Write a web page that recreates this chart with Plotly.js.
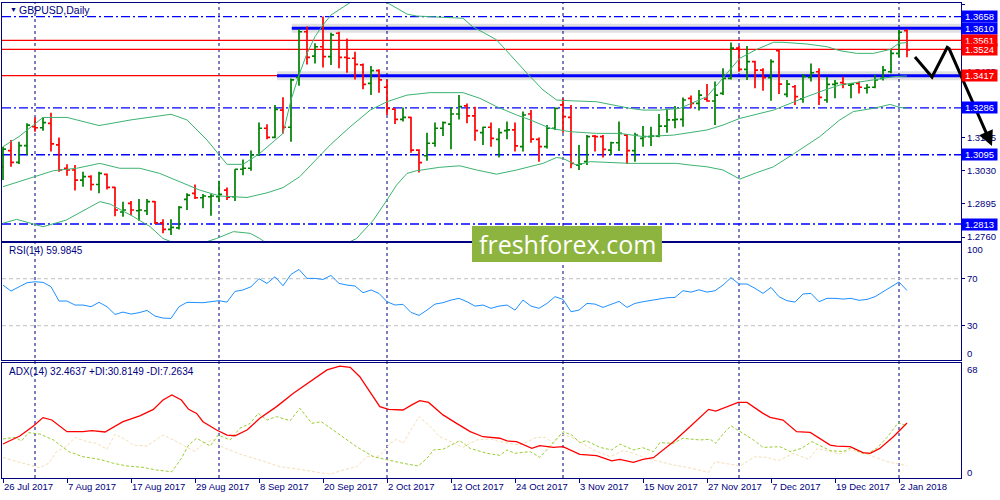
<!DOCTYPE html>
<html><head><meta charset="utf-8">
<script src="https://cdn.plot.ly/plotly-3.0.1.min.js"></script>
<style>html,body{margin:0;padding:0;background:#fff}#chart{width:1000px;height:500px}</style>
</head><body><div id="chart"></div>
<script>
// ---------- data ----------
const tickLabels = ['26 Jul 2017','7 Aug 2017','17 Aug 2017','29 Aug 2017','8 Sep 2017','20 Sep 2017','2 Oct 2017','12 Oct 2017','24 Oct 2017','3 Nov 2017','15 Nov 2017','27 Nov 2017','7 Dec 2017','19 Dec 2017','2 Jan 2018'];
const tickBars = [0,8,16,24,32,40,48,56,64,72,80,88,96,104,112];
const monthStartBars = [4,27,48,70,92,112];

const open = [1.3046,1.3112,1.3064,1.3132,1.3209,1.3205,1.3223,1.3135,1.3040,1.3033,
1.2992,1.3006,1.2974,1.3015,1.2962,1.2862,1.2897,1.2867,1.2867,1.2904,
1.2818,1.2791,1.2797,1.2913,1.2938,1.2920,1.2924,1.2924,1.2951,1.2924,
1.3036,1.3040,1.3094,1.3203,1.3166,1.3277,1.3207,1.3410,1.3596,1.3497,
1.3535,1.3495,1.3590,1.3492,1.3488,1.3461,1.3386,1.3438,1.3370,1.3281,
1.3239,1.3247,1.3114,1.3091,1.3142,1.3203,1.3220,1.3261,1.3294,1.3253,
1.3185,1.3207,1.3158,1.3193,1.3196,1.3128,1.3261,1.3158,1.3128,1.3203,
1.3298,1.3247,1.3053,1.3067,1.3171,1.3169,1.3114,1.3144,1.3175,1.3112,
1.3162,1.3169,1.3171,1.3212,1.3237,1.3239,1.3325,1.3304,1.3322,1.3314,
1.3345,1.3406,1.3529,1.3443,1.3474,1.3440,1.3409,1.3519,1.3341,1.3372,
1.3323,1.3410,1.3433,1.3318,1.3382,1.3389,1.3379,1.3386,1.3366,1.3370,
1.3406,1.3433,1.3508,1.3600];
const high = [1.3128,1.3155,1.3148,1.3223,1.3247,1.3247,1.3266,1.3165,1.3056,1.3053,
1.3026,1.3012,1.3026,1.3019,1.2965,1.2904,1.2907,1.2915,1.2915,1.2907,
1.2832,1.2832,1.2886,1.2938,1.2974,1.2935,1.2935,1.2989,1.2962,1.3036,
1.3076,1.3112,1.3226,1.3219,1.3298,1.3329,1.3406,1.3607,1.3617,1.3549,
1.3658,1.3592,1.3596,1.3569,1.3515,1.3467,1.3457,1.3443,1.3402,1.3284,
1.3288,1.3250,1.3117,1.3185,1.3226,1.3230,1.3288,1.3338,1.3304,1.3291,
1.3209,1.3226,1.3203,1.3230,1.3226,1.3271,1.3277,1.3165,1.3216,1.3288,
1.3325,1.3298,1.3135,1.3175,1.3175,1.3175,1.3148,1.3230,1.3180,1.3185,
1.3212,1.3209,1.3261,1.3277,1.3294,1.3328,1.3336,1.3359,1.3383,1.3393,
1.3447,1.3552,1.3538,1.3538,1.3478,1.3447,1.3484,1.3524,1.3400,1.3379,
1.3424,1.3467,1.3447,1.3413,1.3400,1.3413,1.3386,1.3393,1.3383,1.3420,
1.3457,1.3522,1.3603,1.3606];
const low = [1.2992,1.3046,1.3057,1.3094,1.3189,1.3193,1.3108,1.3026,1.3010,1.2949,
1.2965,1.2949,1.2938,1.2954,1.2845,1.2843,1.2850,1.2826,1.2850,1.2813,
1.2775,1.2768,1.2791,1.2870,1.2915,1.2877,1.2847,1.2904,1.2911,1.2907,
1.3012,1.3030,1.3091,1.3158,1.3162,1.3182,1.3148,1.3376,1.3463,1.3467,
1.3450,1.3461,1.3447,1.3429,1.3402,1.3362,1.3338,1.3348,1.3257,1.3220,
1.3230,1.3103,1.3023,1.3071,1.3128,1.3171,1.3117,1.3239,1.3223,1.3152,
1.3135,1.3128,1.3084,1.3158,1.3108,1.3108,1.3144,1.3067,1.3121,1.3196,
1.3185,1.3040,1.3033,1.3053,1.3108,1.3084,1.3094,1.3110,1.3057,1.3067,
1.3128,1.3131,1.3166,1.3185,1.3203,1.3209,1.3284,1.3275,1.3311,1.3216,
1.3338,1.3402,1.3433,1.3400,1.3366,1.3356,1.3315,1.3342,1.3329,1.3298,
1.3307,1.3393,1.3298,1.3307,1.3325,1.3366,1.3325,1.3345,1.3345,1.3366,
1.3397,1.3427,1.3492,1.3492];
const close = [1.3118,1.3064,1.3132,1.3216,1.3205,1.3226,1.3139,1.3033,1.3033,1.2992,
1.3006,1.2974,1.3019,1.2962,1.2870,1.2870,1.2870,1.2870,1.2904,1.2818,
1.2791,1.2799,1.2881,1.2931,1.2920,1.2927,1.2927,1.2934,1.2922,1.3036,
1.3040,1.3094,1.3203,1.3166,1.3280,1.3207,1.3400,1.3596,1.3492,1.3535,
1.3495,1.3583,1.3492,1.3488,1.3463,1.3382,1.3438,1.3400,1.3284,1.3239,
1.3247,1.3114,1.3063,1.3142,1.3203,1.3226,1.3261,1.3291,1.3253,1.3193,
1.3207,1.3162,1.3185,1.3196,1.3131,1.3257,1.3159,1.3128,1.3203,1.3284,
1.3250,1.3060,1.3057,1.3169,1.3169,1.3117,1.3144,1.3182,1.3112,1.3175,
1.3169,1.3171,1.3212,1.3237,1.3239,1.3318,1.3304,1.3338,1.3314,1.3338,
1.3406,1.3529,1.3443,1.3474,1.3440,1.3409,1.3474,1.3383,1.3383,1.3332,
1.3413,1.3429,1.3329,1.3382,1.3386,1.3383,1.3383,1.3370,1.3370,1.3400,
1.3440,1.3508,1.3594,1.3522];

const bbUpperX = [0,2,5,8,12,16,21,23,25.5,28,30,32,35,36,37,38,39,40,41,43.4,45.5,48,50.5,51.7,57.5,58.7,61.7,63.2,65.5,67.5,69.2,70.9,74.2,78.4,80,82.1,84.6,88,90,92.1,94.2,96.3,97.5,100.5,103,104.6,106.7,108.8,110.9,112,113];
const bbUpper = [1.3128,1.3169,1.3247,1.3247,1.3214,1.3237,1.3260,1.3237,1.3155,1.3056,1.3056,1.3098,1.3182,1.3318,1.3420,1.3508,1.3576,1.3624,1.3664,1.3715,1.3735,1.3715,1.3668,1.3660,1.3651,1.3617,1.3563,1.3508,1.3427,1.3359,1.3318,1.3315,1.3311,1.3284,1.3277,1.3277,1.3284,1.3332,1.3406,1.3488,1.3524,1.3553,1.3553,1.3546,1.3535,1.3519,1.3508,1.3508,1.3524,1.3549,1.3552];
const bbMidX = [0,3.8,6.3,9.2,12.1,14.6,17.1,19.6,22.1,24.6,27.1,30.5,33,35,37.1,39.2,40.9,43.4,45.9,48,50.5,53.4,57.5,59.6,61.7,64.2,65.9,68.4,70.9,74.2,77.1,80,83.8,88,90,92.1,96.3,98.4,100.5,103,104.6,108.8,111.3,113];
const bbMid = [1.2965,1.3006,1.3030,1.3040,1.3060,1.3040,1.3040,1.3019,1.2985,1.2951,1.2927,1.2921,1.2940,1.2961,1.3006,1.3076,1.3135,1.3209,1.3277,1.3311,1.3338,1.3348,1.3348,1.3325,1.3291,1.3257,1.3237,1.3203,1.3189,1.3182,1.3182,1.3169,1.3175,1.3196,1.3216,1.3243,1.3277,1.3304,1.3332,1.3362,1.3379,1.3400,1.3413,1.3416];
const bbLowerX = [0,1.7,3.8,5,7.9,12.1,13.4,16.3,18.4,20,23,26.7,28.8,30.9,32.1,37,44.2,46.3,48,49.2,50.5,51.7,54.6,57.1,59.2,61.7,64.2,65.9,67.5,69.2,70,71.7,73.4,78.4,82.1,84.2,85.9,88,90,92.1,94.2,96.3,98.8,102.1,104.6,106.3,108.8,110.9,112.1,113];
const bbLower = [1.2816,1.2832,1.2813,1.2802,1.2829,1.2904,1.2894,1.2843,1.2802,1.2754,1.2715,1.2754,1.2782,1.2775,1.2754,1.2640,1.2754,1.2829,1.2911,1.2972,1.3019,1.3030,1.3044,1.3050,1.3033,1.3016,1.3033,1.3046,1.3060,1.3084,1.3080,1.3053,1.3067,1.3060,1.3060,1.3060,1.3053,1.3046,1.3033,1.2996,1.3022,1.3046,1.3098,1.3169,1.3237,1.3271,1.3284,1.3300,1.3288,1.3284];

const rsiX = [0,1,3,4,5,6,7,8,9,10,11,12,13,14,15,16,17,18,19,20,21,22,23,25,27,28,29,30,31,32,33,34,35,36,37,38,39,40,41,42,43,44,45,46,47,48,49,50,51,52,53,54,55,56,57,58,59,60,61,62,63,64,65,66,67,68,69,70,71,72,73,74,75,76,77,78,79,80,81,82,83,84,85,86,87,88,89,90,91,92,93,94,95,96,97,98,99,100,101,102,103,104,105,106,107,108,109,110,111,112,113];
const rsi = [64.6,59.5,66.6,67.4,66.9,63.2,51.0,51.0,47.6,47.6,46.2,49.9,46.2,39.6,41.6,39.9,41.1,43.0,38.2,36.5,36.2,46.2,49.9,49.6,51.3,50.1,59.2,60.4,63.2,70.0,66.0,71.7,64.0,73.7,77.9,70.3,70.3,69.4,72.8,66.0,64.6,63.8,58.1,60.4,57.5,50.4,47.6,48.2,41.3,38.8,43.3,48.4,49.6,51.8,53.3,50.4,46.7,47.6,44.8,46.7,47.6,43.3,51.8,46.7,44.8,49.0,54.7,52.4,41.9,43.3,49.0,48.4,45.6,48.2,50.7,45.6,49.0,50.4,51.6,52.7,53.8,54.1,59.8,58.6,60.6,58.6,59.8,64.6,70.9,65.5,65.5,61.8,57.5,62.6,54.7,51.3,50.1,57.0,57.5,50.4,53.3,53.3,52.7,53.3,51.6,52.4,54.7,58.9,63.2,67.2,60.0];

const adxX = [0,2.1,3.8,5,6.1,8,10,11.1,12.75,15,17.1,18.8,20,21.1,22.3,23.2,24.2,25,26.7,28,29,30.5,32.1,34.2,36.3,38.8,40.5,42.1,43.4,44.6,45.9,47.1,48.2,50,51.1,52.1,53.2,55,56.7,58.4,60,62.1,63,64.2,66.1,67.1,68.8,70,72.1,74.2,76.1,77.1,78.8,80,81.3,83.8,85.9,88.2,89.1,90.5,91.9,93,95,95.9,97.5,99.2,100.9,103.4,104.2,105.9,107.5,108.4,109.6,111.3,112.1,113];
const adx = [20.1,24.8,30.7,35.7,34.3,27.4,27.4,28.0,27.2,33.3,36.7,40.6,46.1,49.1,46.1,40.6,38.2,33.3,28.4,25.4,25.0,28.4,35.3,42.2,50.1,58.3,63.9,66.2,65.4,59.9,51.0,42.2,40.6,40.2,43.2,45.7,44.7,37.3,32.3,27.4,24.4,23.5,21.9,21.5,17.5,19.1,18.1,18.5,14.0,13.2,10.1,11.0,9.3,11.0,12.0,21.5,30.4,40.6,39.6,42.2,44.7,44.7,38.2,35.9,34.3,27.4,27.0,19.5,18.9,18.5,15.0,14.6,17.5,24.4,28.4,32.5];
const pdiX = [0,1.5,2.3,3.2,4.6,6.3,8.2,10,12.1,13.8,15.5,17.5,19.2,21.1,22.3,23.2,24.2,25.9,26.9,28.4,29.6,30.9,31.9,33,34.2,35.9,37.1,38.6,39.8,42.1,44.2,46.3,48,50,51.9,53,53.8,55,57.1,58.4,60.5,62.1,63,64,65.9,67.1,68.4,70,71.1,72.1,72.9,74.6,76.1,77.1,78.8,80,81.3,82.1,83.8,85,87.1,88.4,89.1,90,91,92.1,93.8,95,97.1,98.4,99.8,101.1,102.3,103.4,105,106.1,107.1,108,109.2,110.5,111.9,113];
const pdi = [23.1,24.0,21.9,26.8,26.0,22.5,15.6,12.6,11.0,8.7,7.1,6.3,4.7,3.7,11.6,19.5,23.5,18.9,25.4,22.5,29.4,32.3,38.2,34.3,36.3,33.9,41.2,32.3,33.3,25.4,18.5,12.6,10.6,8.7,7.1,11.6,16.6,17.0,22.1,17.5,14.6,13.4,16.6,14.6,15.6,12.2,18.9,27.4,25.4,20.9,22.1,18.1,16.6,20.1,16.6,17.9,15.6,20.9,20.5,23.5,22.5,22.9,20.5,26.0,30.9,27.4,22.5,18.1,18.5,15.6,17.5,21.5,18.5,16.2,15.6,18.1,15.0,14.2,17.5,24.0,32.7,30.8];
const mdiX = [0,1.7,3.4,4.6,5.7,6.7,8,9,10.5,11.7,13,14,15.5,16.3,18,20,21.3,22.8,24,25,26.3,27.5,29.6,32.1,34.6,37.1,39.6,40.9,42.5,44.2,45.5,47.1,48.4,49.2,50,51.1,52,53.4,54.6,56.3,57.5,59.2,60.9,62.1,63.4,64.6,66.7,67.8,68.8,69.8,70.9,72.1,73.8,75.9,77.5,78.8,80.5,82.1,83.8,85.5,87.1,88.2,89,90.9,92.1,94,95.5,96.9,98.8,100.7,101.8,103.4,104.6,105.9,107.3,108.8,110.5,111.9,113];
const mdi = [12.2,9.7,7.7,6.1,8.7,15.6,18.9,24.0,21.5,20.5,17.0,26.0,22.1,19.5,18.9,25.4,22.5,18.9,15.6,20.5,22.5,18.1,14.2,10.6,6.7,5.1,3.4,2.2,4.7,6.7,12.6,13.0,20.5,22.9,20.5,29.4,36.3,30.4,24.4,20.9,18.1,22.5,23.1,21.5,20.5,19.5,24.0,24.0,20.5,26.0,24.4,21.5,16.6,12.6,16.2,14.6,11.6,9.7,7.7,6.3,4.7,3.4,9.7,8.1,7.1,12.6,12.2,10.2,14.6,11.0,17.5,15.6,14.2,16.6,15.6,12.6,9.7,8.3,7.3];

const priceTicks = [1.3705,1.3435,1.3165,1.3030,1.2895,1.2760];
const blueDashLevels = [1.3658,1.3286,1.3095,1.2813];
const redLevels = [1.3561,1.3524,1.3417];
const zoneLevels = [1.3610,1.3417];
const zoneStartBars = [36.1,34.25];
const labelsBlue = [1.3658,1.3610,1.3286,1.3095,1.2813];
const labelsRed = [1.3561,1.3524,1.3417];

// ---------- styling ----------
const NAVY = '#000080';
const F = 'Liberation Sans, Arial, sans-serif';
const XR = [-0.125, 119.75];
const bars = open.map((_, i) => i);

const traces = [
  {type:'scatter', mode:'lines', x:bbUpperX, y:bbUpper, xaxis:'x', yaxis:'y', line:{color:'#3CB371', width:1}, hoverinfo:'skip'},
  {type:'scatter', mode:'lines', x:bbMidX, y:bbMid, xaxis:'x', yaxis:'y', line:{color:'#3CB371', width:1}, hoverinfo:'skip'},
  {type:'scatter', mode:'lines', x:bbLowerX, y:bbLower, xaxis:'x', yaxis:'y', line:{color:'#3CB371', width:1}, hoverinfo:'skip'},
  {type:'ohlc', x:bars, open:open, high:high, low:low, close:close, xaxis:'x', yaxis:'y',
   increasing:{line:{color:'#008000', width:1.7}}, decreasing:{line:{color:'#FF0000', width:1.7}}, tickwidth:0.38, hoverinfo:'skip'},
  {type:'scatter', mode:'lines', x:rsiX, y:rsi, xaxis:'x2', yaxis:'y2', line:{color:'#1E90FF', width:1}, hoverinfo:'skip'},
  {type:'scatter', mode:'lines', x:mdiX, y:mdi, xaxis:'x3', yaxis:'y3', line:{color:'#F5DEB3', width:1, dash:'3px,2px'}, hoverinfo:'skip'},
  {type:'scatter', mode:'lines', x:pdiX, y:pdi, xaxis:'x3', yaxis:'y3', line:{color:'#9ACD32', width:1, dash:'3px,2px'}, hoverinfo:'skip'},
  {type:'scatter', mode:'lines', x:adxX, y:adx, xaxis:'x3', yaxis:'y3', line:{color:'#FF0000', width:1.3}, hoverinfo:'skip'}
];

const shapes = [];
monthStartBars.forEach(b => shapes.push({type:'line', xref:'x', yref:'paper', x0:b, x1:b, y0:0, y1:1, layer:'below', line:{color:NAVY, width:1, dash:'3px,3px'}}));
blueDashLevels.forEach(v => shapes.push({type:'line', xref:'paper', yref:'y', x0:0, x1:1, y0:v, y1:v, layer:'below', line:{color:'#0000FF', width:1.3, dash:'9px,3px,2px,3px'}}));
redLevels.forEach(v => shapes.push({type:'line', xref:'paper', yref:'y', x0:0, x1:1, y0:v, y1:v, layer:'below', line:{color:'#FF0000', width:1.2}}));
zoneLevels.forEach((v, k) => {
  shapes.push({type:'line', xref:'x', yref:'y', x0:zoneStartBars[k], x1:XR[1], y0:v, y1:v, layer:'below', line:{color:'rgba(0,0,0,0.12)', width:9}});
  shapes.push({type:'line', xref:'x', yref:'y', x0:zoneStartBars[k], x1:XR[1], y0:v, y1:v, layer:'below', line:{color:'#0000FF', width:3}});
});
[70,30].forEach(v => shapes.push({type:'line', xref:'paper', yref:'y2', x0:0, x1:1, y0:v, y1:v, layer:'below', line:{color:'#C0C0C0', width:1, dash:'4px,3px'}}));
// watermark box
shapes.push({type:'rect', xref:'paper', yref:'paper', x0:0.4901, x1:0.6882, y0:0.4547, y1:0.5305, fillcolor:'#8DB43E', line:{width:0}, layer:'above'});
// zig-zag projection
shapes.push({type:'path', xref:'paper', yref:'paper', path:'M 0.9520 0.8863 L 0.9698 0.8442 L 0.9864 0.9095', line:{color:'#000000', width:3}, layer:'above'});

const annotations = [
  {xref:'paper', yref:'paper', x:0.0063, y:0.9853, text:'▼', showarrow:false, xanchor:'left', yanchor:'middle', font:{family:F, size:7, color:NAVY}},
  {xref:'paper', yref:'paper', x:0.0156, y:0.9853, text:'GBPUSD,Daily', showarrow:false, xanchor:'left', yanchor:'middle', font:{family:F, size:10.5, color:NAVY}},
  {xref:'paper', yref:'paper', x:0.0052, y:0.4779, text:'RSI(14) 59.9845', showarrow:false, xanchor:'left', yanchor:'middle', font:{family:F, size:10, color:NAVY}},
  {xref:'paper', yref:'paper', x:0.0052, y:0.2232, text:'ADX(14) 32.4637 +DI:30.8149 -DI:7.2634', showarrow:false, xanchor:'left', yanchor:'middle', font:{family:F, size:10, color:NAVY}},
  {xref:'paper', yref:'y2', x:1, xshift:4, y:95.3, text:'100', showarrow:false, xanchor:'left', font:{family:F, size:9.5, color:NAVY}},
  {xref:'paper', yref:'y2', x:1, xshift:4, y:6.7, text:'0', showarrow:false, xanchor:'left', font:{family:F, size:9.5, color:NAVY}},
  {xref:'paper', yref:'y3', x:1, xshift:4, y:63.9, text:'68', showarrow:false, xanchor:'left', font:{family:F, size:9.5, color:NAVY}},
  {xref:'paper', yref:'y3', x:1, xshift:4, y:3.5, text:'0', showarrow:false, xanchor:'left', font:{family:F, size:9.5, color:NAVY}},
  {xref:'paper', yref:'paper', x:0.5892, y:0.4926, text:'freshforex.com', showarrow:false, xanchor:'center', yanchor:'middle', font:{family:'Open Sans, sans-serif', size:25, color:'#FFFFFF'}},
  {xref:'paper', yref:'paper', x:1.0323, y:0.6989, ax:-44, ay:-100, text:'', showarrow:true, arrowhead:2, arrowsize:1, arrowwidth:3, arrowcolor:'#000000'}
];
labelsBlue.forEach(v => annotations.push({xref:'paper', yref:'y', x:1, xshift:0, y:v, xanchor:'left', yanchor:'middle', text:v.toFixed(4), showarrow:false, bgcolor:'#0000FF', width:35, height:11, borderpad:0, font:{family:F, size:9.5, color:'#FFFFFF'}}));
labelsRed.forEach(v => annotations.push({xref:'paper', yref:'y', x:1, xshift:0, y:v, xanchor:'left', yanchor:'middle', text:v.toFixed(4), showarrow:false, bgcolor:'#FF0000', width:35, height:11, borderpad:0, font:{family:F, size:9.5, color:'#FFFFFF'}}));

const axX = (anchor) => ({domain:[0,1], range:XR, anchor:anchor, showline:true, mirror:true, linecolor:NAVY, linewidth:1, showgrid:false, zeroline:false, showticklabels:false, ticks:'', fixedrange:true, rangeslider:{visible:false}});
const axY = (anchor, dom, range) => ({domain:dom, range:range, anchor:anchor, side:'right', showline:true, mirror:true, linecolor:NAVY, linewidth:1, showgrid:false, zeroline:false, ticks:'outside', ticklen:3, tickcolor:NAVY, tickfont:{family:F, size:9.5, color:NAVY}, fixedrange:true});

const layout = {
  width:1000, height:500, margin:{l:2, r:39, t:3, b:22},
  paper_bgcolor:'#FFFFFF', plot_bgcolor:'#FFFFFF', showlegend:false,
  font:{family:F, color:NAVY},
  xaxis: axX('y'),
  xaxis2: axX('y2'),
  xaxis3: Object.assign(axX('y3'), {showticklabels:true, ticks:'outside', ticklen:4, tickcolor:NAVY, tickvals:tickBars, ticktext:tickLabels, ticklabelposition:'outside right', tickfont:{family:F, size:9.5, color:NAVY}}),
  yaxis: Object.assign(axY('x', [0.4989,1], [1.27437,1.37131]), {tickvals:priceTicks, ticktext:priceTicks.map(v => v.toFixed(4))}),
  yaxis2: Object.assign(axY('x2', [0.2484,0.4947], [0.8,100.4]), {tickvals:[70,30], ticktext:['70','30']}),
  yaxis3: Object.assign(axY('x3', [0,0.2421], [0,68]), {tickvals:[], showticklabels:false}),
  shapes:shapes, annotations:annotations
};

Plotly.newPlot('chart', traces, layout, {staticPlot:true, displayModeBar:false});
</script></body></html>
